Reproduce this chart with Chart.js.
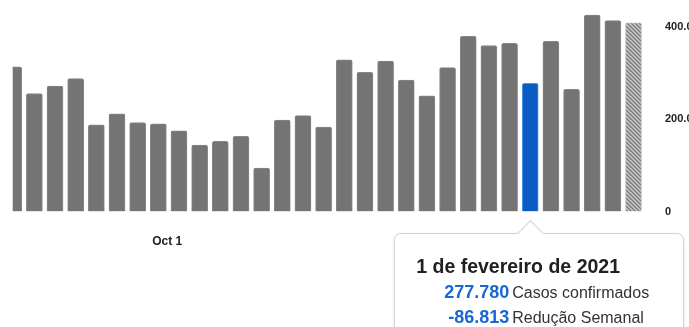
<!DOCTYPE html>
<html>
<head>
<meta charset="utf-8">
<script src="https://cdn.jsdelivr.net/npm/chart.js@4.4.1/dist/chart.umd.min.js"></script>
<style>
  html, body { margin: 0; padding: 0; background: #fff; overflow: hidden; }
  #wrap { position: relative; width: 689px; height: 327px; overflow: hidden; }
  #tip {
    display: none;
    position: absolute;
    width: 290px;
    height: 120px;
    box-sizing: border-box;
    background: #fff;
    border: 1px solid #d4d4d4;
    border-radius: 7px;
    box-shadow: 0 1px 3px rgba(0, 0, 0, 0.12);
    padding: 21px 0 0 21px;
    font-family: Arial, "Liberation Sans", sans-serif;
    color: #202124;
  }
  #tip .caret {
    position: absolute;
    top: -10px;
    width: 18px;
    height: 18px;
    background: #fff;
    border-left: 1px solid #d4d4d4;
    border-top: 1px solid #d4d4d4;
    transform: rotate(45deg);
  }
  #tip .t { font-size: 19.5px; font-weight: bold; line-height: 22px; margin-bottom: 3px; }
  #tip .row { line-height: 25px; white-space: nowrap; }
  #tip .v { display: inline-block; width: 93px; text-align: right; font-size: 18px; font-weight: bold; color: #1967d2; }
  #tip .l { font-size: 16px; color: #333; margin-left: 3px; }
</style>
</head>
<body>
<div id="wrap">
  <canvas id="cases"></canvas>
  <div id="tip">
    <div class="caret"></div>
    <div class="t"></div>
    <div class="row"><span class="v" id="v1"></span><span class="l">Casos confirmados</span></div>
    <div class="row"><span class="v" id="v2"></span><span class="l">Redução Semanal</span></div>
  </div>
</div>
<script>
// weekly confirmed cases, one bar per week (week start date)
const weekStarts = [
  '2020-08-10', '2020-08-17', '2020-08-24', '2020-08-31', '2020-09-07', '2020-09-14',
  '2020-09-21', '2020-09-28', '2020-10-05', '2020-10-12', '2020-10-19', '2020-10-26',
  '2020-11-02', '2020-11-09', '2020-11-16', '2020-11-23', '2020-11-30', '2020-12-07',
  '2020-12-14', '2020-12-21', '2020-12-28', '2021-01-04', '2021-01-11', '2021-01-18',
  '2021-01-25', '2021-02-01', '2021-02-08', '2021-02-15', '2021-02-22', '2021-03-01',
  '2021-03-08'
];
const weeklyCases = [
  314000, 256000, 272000, 288000, 188000, 212000,
  193000, 190000, 175000, 144000, 152000, 163000,
  94000, 198000, 208000, 183000, 329000, 302000,
  326000, 285000, 251000, 312000, 380000, 360000,
  364593, 277780, 369000, 265000, 426000, 414000,
  409000
];
const highlightIndex = 25;   // selected week (tooltip)
const partialIndex = 30;     // incomplete week, hatched

const xTickDates = ['2020-10-01'];
const xTickLabels = ['Oct 1'];
const yTicks = [0, 200000, 400000];

const monthsPt = ['janeiro', 'fevereiro', 'março', 'abril', 'maio', 'junho', 'julho',
  'agosto', 'setembro', 'outubro', 'novembro', 'dezembro'];

const DAY = 86400000;
const origin = Date.parse(weekStarts[0] + 'T00:00:00Z');
const dayOf = s => (Date.parse(s + 'T00:00:00Z') - origin) / DAY;

function fmt(n) {
  const s = String(Math.abs(n)).replace(/\B(?=(\d{3})+(?!\d))/g, '.');
  return (n < 0 ? '-' : '') + s;
}

function hatchPattern(ctx) {
  const c = document.createElement('canvas');
  c.width = 4; c.height = 4;
  const g = c.getContext('2d');
  g.fillStyle = '#cdcdcd';
  g.fillRect(0, 0, 4, 4);
  g.strokeStyle = '#777';
  g.lineWidth = 1.4;
  g.beginPath();
  g.moveTo(0, 0); g.lineTo(4, 4);
  g.moveTo(-1, 3); g.lineTo(1, 5);
  g.moveTo(3, -1); g.lineTo(5, 1);
  g.stroke();
  return ctx.createPattern(c, 'repeat');
}

function showTip(context) {
  const tip = document.getElementById('tip');
  const model = context.tooltip;
  if (!model.dataPoints || !model.dataPoints.length) {
    tip.style.display = 'none';
    return;
  }
  const i = model.dataPoints[0].dataIndex;
  const d = new Date(weekStarts[i] + 'T00:00:00Z');
  tip.querySelector('.t').textContent =
    d.getUTCDate() + ' de ' + monthsPt[d.getUTCMonth()] + ' de ' + d.getUTCFullYear();
  document.getElementById('v1').textContent = fmt(weeklyCases[i]);
  document.getElementById('v2').textContent = fmt(weeklyCases[i] - weeklyCases[i - 1]);

  const left = model.caretX - 136;
  tip.style.display = 'block';
  tip.style.left = left + 'px';
  tip.style.top = (context.chart.chartArea.bottom + 21.5) + 'px';
  tip.querySelector('.caret').style.left = (model.caretX - left - 10) + 'px';
}

const canvas = document.getElementById('cases');
const ctx = canvas.getContext('2d');
const hatch = hatchPattern(ctx);

const chart = new Chart(ctx, {
  type: 'bar',
  data: {
    datasets: [{
      data: weekStarts.map((w, i) => ({ x: dayOf(w), y: weeklyCases[i] })),
      backgroundColor: c => c.dataIndex === highlightIndex ? '#0c5ac4'
        : c.dataIndex === partialIndex ? hatch : '#747474',
      borderColor: c => c.dataIndex === highlightIndex ? '#4b98ee'
        : c.dataIndex === partialIndex ? '#bbbbbb' : '#868686',
      borderWidth: 1,
      borderRadius: 2,
      barThickness: 16,
      clip: 0
    }]
  },
  options: {
    responsive: true,
    maintainAspectRatio: false,
    animation: false,
    events: [],
    layout: { padding: { left: 12.7, top: 4, right: 0, bottom: 0 } },
    plugins: {
      legend: { display: false },
      tooltip: { enabled: false, animation: false, external: showTip }
    },
    scales: {
      x: {
        type: 'linear',
        offset: false,
        bounds: 'data',
        min: -0.34,
        max: 214.9,
        grid: { display: false, drawTicks: false },
        border: { display: false },
        afterFit: s => { s.height = 115.5; s.paddingLeft = 0; s.paddingRight = 0; },
        afterBuildTicks: s => { s.ticks = xTickDates.map(t => ({ value: dayOf(t) })); },
        ticks: {
          padding: 23,
          maxRotation: 0,
          autoSkip: false,
          color: '#222',
          font: { family: 'Arial', size: 12, weight: 'bold' },
          callback: (v, i) => xTickLabels[i]
        }
      },
      y: {
        position: 'right',
        bounds: 'data',
        min: 0,
        max: 450000,
        grid: { display: false, drawTicks: false },
        border: { display: false },
        afterFit: s => { s.width = 41; s.paddingTop = 0; s.paddingBottom = 0; },
        afterBuildTicks: s => { s.ticks = yTicks.map(v => ({ value: v })); },
        ticks: {
          padding: 17,
          color: '#222',
          font: { family: 'Arial', size: 11, weight: 'bold' },
          callback: v => fmt(v)
        }
      }
    }
  }
});

chart.tooltip.setActiveElements([{ datasetIndex: 0, index: highlightIndex }], { x: 0, y: 0 });
</script>
</body>
</html>
